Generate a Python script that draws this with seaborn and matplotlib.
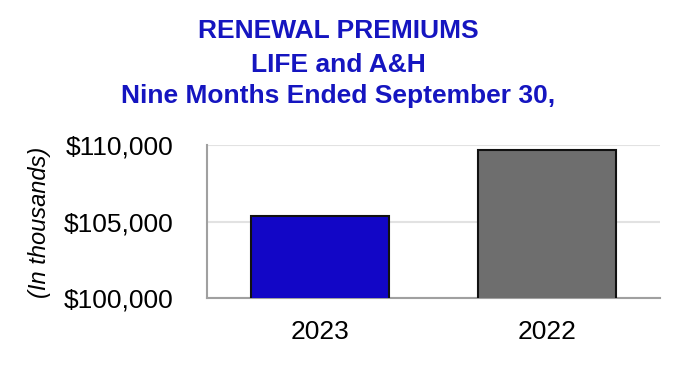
import matplotlib
matplotlib.use('Agg')
import matplotlib.pyplot as plt
import seaborn as sns
import pandas as pd

# данные
years = ['2023', '2022']
premiums = [105360, 109670]
bar_colors = ['#1206C6', '#6E6E6E']
y_ticks = [100000, 105000, 110000]
title_lines = ['RENEWAL PREMIUMS', 'LIFE and A&H', 'Nine Months Ended September 30,']

df = pd.DataFrame({'year': years, 'premium': premiums})

sns.set_style('white')
plt.rcParams['font.family'] = ['Liberation Sans', 'DejaVu Sans']
plt.rcParams['text.color'] = 'black'
plt.rcParams['xtick.color'] = 'black'
plt.rcParams['ytick.color'] = 'black'

fig = plt.figure(figsize=(6.8, 3.66), dpi=100)
ax = fig.add_axes([0.3044, 0.1858, 0.6662, 0.418])

sns.barplot(data=df, x='year', y='premium', hue='year', order=years,
            palette=dict(zip(years, bar_colors)), width=0.61, saturation=1,
            edgecolor='#111111', linewidth=1.5, legend=False, ax=ax,
            zorder=3)

ax.set_ylim(100000, 110000)
ax.set_xlim(-0.5, 1.5)
ax.set_yticks(y_ticks)
ax.set_yticklabels([f'${v:,}' for v in y_ticks])
ax.tick_params(axis='y', length=0, pad=24, labelsize=19)
ax.tick_params(axis='x', length=0, pad=16, labelsize=19)
ax.yaxis.grid(True, color='#e2e2e2', linewidth=1.5, zorder=0)
ax.set_axisbelow(True)

sns.despine(ax=ax, top=True, right=True)
for s in ['left', 'bottom']:
    ax.spines[s].set_color('#a0a0a0')
    ax.spines[s].set_linewidth(1.5)

ax.set_xlabel('')
ax.set_ylabel('')
fig.text(40 / 680, 1 - 222 / 366, '(In thousands)', rotation=90,
         ha='center', va='center', fontsize=17, fontstyle='italic')

# заголовок, по строкам (базовые линии)
baselines = [38.5, 72.5, 103.5]
for line, b in zip(title_lines, baselines):
    fig.text(0.497, 1 - b / 366, line, ha='center', va='baseline',
             color='#1515C0', fontsize=19, fontweight='bold')

fig.savefig('out.png', dpi=100)
